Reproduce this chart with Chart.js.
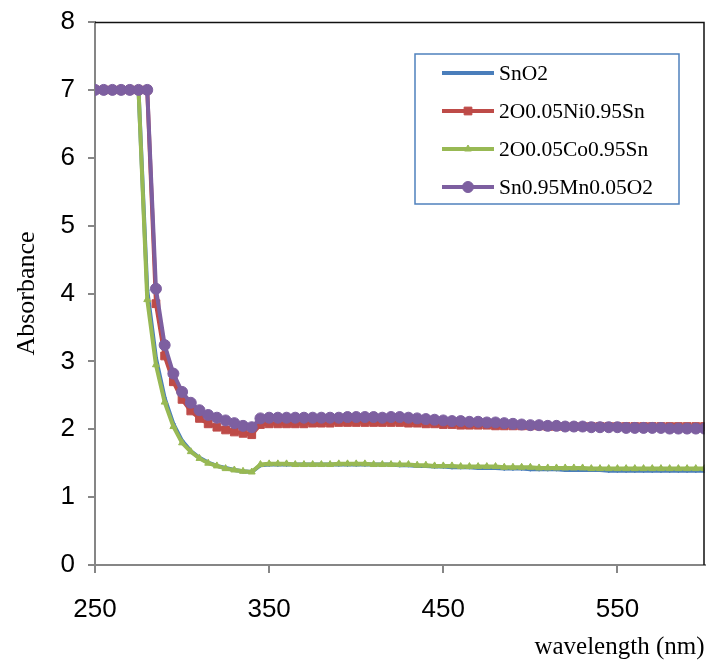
<!DOCTYPE html>
<html>
<head>
<meta charset="utf-8">
<script src="https://cdn.jsdelivr.net/npm/chart.js@4.4.0/dist/chart.umd.min.js"></script>
<style>
  html, body { margin: 0; padding: 0; background: #fff; }
  #wrap { width: 711px; height: 662px; }
</style>
</head>
<body>
<div id="wrap"><canvas id="c" width="711" height="662"></canvas></div>
<script>
/* absorbance spectra, 5 nm steps */
var wavelengths = [250,255,260,265,270,275,280,285,290,295,300,305,310,315,320,325,330,335,340,
  345,350,355,360,365,370,375,380,385,390,395,400,405,410,415,420,425,430,435,440,
  445,450,455,460,465,470,475,480,485,490,495,500,505,510,515,520,525,530,535,540,
  545,550,555,560,565,570,575,580,585,590,595,600];

var seriesNames = ['SnO2', '2O0.05Ni0.95Sn', '2O0.05Co0.95Sn', 'Sn0.95Mn0.05O2'];

var snO2 = [7,7,7,7,7,7,4.05,3.05,2.46,2.08,1.83,1.68,1.58,1.51,1.46,1.43,1.40,1.38,1.37,
  1.47,1.48,1.48,1.48,1.48,1.48,1.48,1.48,1.48,1.48,
  1.48,1.48,1.48,1.48,1.48,1.48,1.47,1.47,1.46,1.46,
  1.45,1.45,1.44,1.44,1.44,1.43,1.43,1.43,1.42,1.42,
  1.42,1.41,1.41,1.41,1.41,1.40,1.40,1.40,1.40,1.40,
  1.39,1.39,1.39,1.39,1.39,1.39,1.39,1.39,1.39,1.39,
  1.39,1.39];

var niDoped = [7,7,7,7,7,7,7,3.85,3.08,2.70,2.44,2.27,2.16,2.08,2.03,1.99,1.96,1.94,1.92,
  2.07,2.08,2.08,2.08,2.08,2.08,2.09,2.09,2.09,2.10,
  2.10,2.10,2.10,2.10,2.10,2.10,2.10,2.09,2.09,2.08,
  2.08,2.07,2.07,2.06,2.06,2.06,2.06,2.05,2.05,2.05,
  2.05,2.05,2.05,2.04,2.04,2.04,2.04,2.04,2.04,2.04,
  2.04,2.04,2.04,2.04,2.04,2.04,2.04,2.04,2.04,2.04,
  2.04,2.04];

var coDoped = [7,7,7,7,7,7,3.91,2.95,2.40,2.04,1.80,1.67,1.57,1.50,1.46,1.42,1.40,1.38,1.37,
  1.48,1.49,1.49,1.49,1.48,1.48,1.48,1.48,1.48,1.49,
  1.49,1.49,1.49,1.48,1.48,1.48,1.48,1.48,1.47,1.47,
  1.46,1.46,1.46,1.45,1.45,1.45,1.45,1.45,1.44,1.44,
  1.44,1.44,1.43,1.43,1.43,1.43,1.43,1.43,1.42,1.42,
  1.42,1.42,1.42,1.42,1.42,1.42,1.42,1.42,1.42,1.42,
  1.42,1.42];

var mnDoped = [7,7,7,7,7,7,7,4.07,3.24,2.82,2.55,2.39,2.28,2.21,2.17,2.13,2.09,2.05,2.03,
  2.16,2.17,2.17,2.17,2.17,2.17,2.17,2.17,2.17,2.17,
  2.18,2.18,2.18,2.18,2.17,2.18,2.18,2.17,2.16,2.15,
  2.14,2.13,2.12,2.12,2.11,2.11,2.10,2.10,2.09,2.08,
  2.07,2.06,2.06,2.05,2.05,2.04,2.04,2.04,2.03,2.03,
  2.03,2.03,2.02,2.02,2.02,2.02,2.02,2.01,2.01,2.01,
  2.01,2.01];

var xTickValues = [250, 350, 450, 550];
var yTickMin = 0, yTickMax = 8, yTickStep = 1;

function pts(vals) {
  return vals.map(function (v, i) { return { x: wavelengths[i], y: v }; });
}

var AXIS = '#868686';
var SANS = "'Liberation Sans', Arial, sans-serif";
var SERIF = "'Liberation Serif', 'Times New Roman', serif";

/* ---------- legend box drawn on the canvas (inside plot, top right) ---------- */
var boxLegend = {
  id: 'boxLegend',
  afterDatasetsDraw: function (chart) {
    var ctx = chart.ctx;
    // plot frame: top + right edges
    var a = chart.chartArea;
    ctx.save();
    ctx.strokeStyle = '#111';
    ctx.lineWidth = 1.5;
    ctx.beginPath();
    ctx.moveTo(a.left, a.top + 0.5);
    ctx.lineTo(a.right - 0.5, a.top + 0.5);
    ctx.lineTo(a.right - 0.5, a.bottom);
    ctx.stroke();

    ctx.fillStyle = '#fff';
    ctx.fillRect(415, 54, 264, 150);
    ctx.strokeStyle = '#4F81BD';
    ctx.lineWidth = 1.5;
    ctx.strokeRect(415, 54, 264, 150);

    var rows = [73, 111, 149, 187];
    chart.data.datasets.forEach(function (ds, i) {
      var y = rows[i];
      ctx.strokeStyle = ds.borderColor;
      ctx.lineWidth = 4;
      ctx.beginPath();
      ctx.moveTo(442, y); ctx.lineTo(494, y);
      ctx.stroke();
      ctx.fillStyle = ds.borderColor;
      ctx.strokeStyle = ds.borderColor;
      ctx.lineWidth = 1;
      Chart.helpers.drawPoint(ctx, { pointStyle: ds.pointStyle, radius: ds.pointRadius, rotation: 0, borderWidth: 1 }, 468, y);
      ctx.fillStyle = '#000';
      ctx.font = '21.5px ' + SERIF;
      ctx.textBaseline = 'middle';
      ctx.textAlign = 'left';
      ctx.fillText(ds.label, 499, y + 1);
    });
    ctx.restore();
  }
};

function line(label, data, color, style, r, order) {
  return {
    label: label, data: pts(data), borderColor: color, backgroundColor: color,
    borderWidth: 4, pointStyle: style, pointRadius: r, pointBorderWidth: 1,
    pointBackgroundColor: color, pointBorderColor: color, tension: 0, order: order
  };
}

new Chart(document.getElementById('c'), {
  type: 'line',
  data: {
    datasets: [
      line(seriesNames[0], snO2, '#4A7EBB', 'rectRot', 2, 4),
      line(seriesNames[1], niDoped, '#BE4B48', 'rect', 5.5, 3),
      line(seriesNames[2], coDoped, '#98B954', 'triangle', 4, 2),
      line(seriesNames[3], mnDoped, '#7D5FA0', 'circle', 5.5, 1)
    ]
  },
  options: {
    responsive: false, animation: false,
    layout: { padding: { top: 22, right: 1, left: 0, bottom: 0 } },
    plugins: { legend: { display: false }, tooltip: { enabled: false } },
    scales: {
      x: {
        type: 'linear', min: 250, max: 600,
        afterBuildTicks: function (s) { s.ticks = xTickValues.map(function (v) { return { value: v }; }); },
        afterFit: function (s) { s.height = 97; s.paddingRight = 0; s.paddingLeft = 0; },
        grid: { drawOnChartArea: false, tickLength: 8, color: AXIS, lineWidth: 2 },
        border: { color: AXIS, width: 2 },
        ticks: { color: '#000', font: { family: SANS, size: 26 }, padding: 21, maxRotation: 0 },
        title: { display: true, text: 'wavelength (nm)', align: 'end', color: '#000',
                 font: { family: SERIF, size: 25 }, padding: { top: 0, bottom: 0 } }
      },
      y: {
        min: yTickMin, max: yTickMax,
        afterFit: function (s) { s.width = 95; s.paddingTop = 0; s.paddingBottom = 0; },
        grid: { drawOnChartArea: false, tickLength: 7, color: AXIS, lineWidth: 2 },
        border: { color: AXIS, width: 2 },
        ticks: { stepSize: yTickStep, color: '#000', font: { family: SANS, size: 26 }, padding: 13 },
        title: { display: true, text: 'Absorbance', color: '#000',
                 font: { family: SERIF, size: 26 }, padding: { top: 12, bottom: 0 } }
      }
    }
  },
  plugins: [boxLegend]
});
</script>
</body>
</html>
